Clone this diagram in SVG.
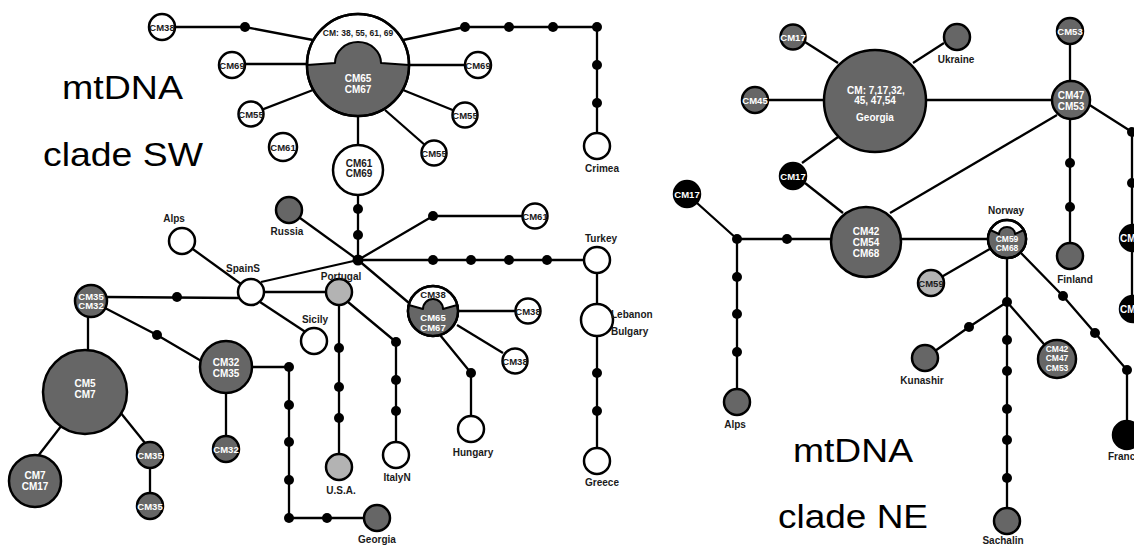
<svg xmlns="http://www.w3.org/2000/svg" width="1134" height="545" viewBox="0 0 1134 545">
<defs><style>
.c line,.c polyline{stroke:#000;stroke-width:2.3;fill:none;stroke-linejoin:round}
.m circle{fill:#000}
.w{fill:#fff;stroke:#000;stroke-width:2.5}
.g{fill:#666;stroke:#000;stroke-width:2.5}
.lg{fill:#b3b3b3;stroke:#000;stroke-width:2.5}
.k{fill:#000;stroke:#000;stroke-width:2.5}
.o{fill:none;stroke:#000;stroke-width:2.5}
.cap{fill:#666;stroke:#000;stroke-width:2;stroke-linejoin:round}
text{font-family:"Liberation Sans",Arial,sans-serif;font-weight:bold;text-anchor:middle;fill:#1a1a1a;font-size:10px}
.s{font-size:9.5px}
.xs{font-size:8.5px}
.wt{fill:#fff}
.st{text-anchor:start}
.big{font-weight:normal;font-size:33px;text-anchor:start;fill:#000}
</style></defs>
<rect width="1134" height="545" fill="#fff"/>

<g id="titles">
<text class="big" x="62" y="99" textLength="121" lengthAdjust="spacingAndGlyphs">mtDNA</text>
<text class="big" x="43" y="166" textLength="160" lengthAdjust="spacingAndGlyphs">clade SW</text>
<text class="big" x="793" y="462" textLength="120" lengthAdjust="spacingAndGlyphs">mtDNA</text>
<text class="big" x="778" y="528" textLength="150" lengthAdjust="spacingAndGlyphs">clade NE</text>
</g>

<g id="connectors" class="c">
<polyline points="162,27 245,27 313,40"/>
<line x1="232" y1="64" x2="309" y2="64"/>
<line x1="251" y1="114" x2="313" y2="90"/>
<polyline points="403,40 465,27 597,27 597,146"/>
<line x1="409" y1="65" x2="478" y2="65"/>
<line x1="403" y1="90" x2="465" y2="115"/>
<line x1="385" y1="110" x2="434" y2="153"/>
<line x1="358" y1="112" x2="358" y2="260"/>
<polyline points="358,260 433,216 535,216"/>
<line x1="358" y1="260" x2="597" y2="260"/>
<line x1="597" y1="260" x2="597" y2="461"/>
<line x1="289" y1="210" x2="358" y2="260"/>
<line x1="261" y1="282" x2="358" y2="260"/>
<line x1="358" y1="260" x2="409" y2="303"/>
<line x1="190" y1="247" x2="241" y2="284"/>
<line x1="264" y1="292" x2="327" y2="292"/>
<line x1="260" y1="302" x2="307" y2="333"/>
<line x1="106" y1="297" x2="239" y2="298"/>
<line x1="88" y1="316" x2="88" y2="352"/>
<polyline points="105,308 157,335 203,362"/>
<line x1="226" y1="367" x2="226" y2="449"/>
<polyline points="226,367 289,367 289,518 377,518"/>
<line x1="62" y1="425" x2="38" y2="456"/>
<line x1="120" y1="412" x2="145" y2="443"/>
<line x1="150" y1="455" x2="150" y2="506"/>
<line x1="339" y1="292" x2="339" y2="467"/>
<polyline points="348,302 396,342 396,455"/>
<line x1="433" y1="311" x2="528" y2="311"/>
<line x1="457" y1="325" x2="503" y2="353"/>
<polyline points="440,335 471,373 471,429"/>

<line x1="805" y1="42" x2="838" y2="63"/>
<line x1="913" y1="63" x2="944" y2="43"/>
<line x1="755" y1="100" x2="1071" y2="100"/>
<line x1="838" y1="137" x2="802" y2="163"/>
<line x1="1070" y1="31" x2="1070" y2="256"/>
<line x1="1057" y1="115" x2="890" y2="213"/>
<line x1="805" y1="183" x2="843" y2="213"/>
<polyline points="1088,104 1132,132 1132,309"/>
<polyline points="687,194 737,239 1007,239"/>
<line x1="737" y1="239" x2="737" y2="402"/>
<line x1="1007" y1="239" x2="931" y2="283"/>
<line x1="1007" y1="239" x2="1007" y2="521"/>
<polyline points="1007,302 969,327 925,358"/>
<line x1="1007" y1="302" x2="1057" y2="359"/>
<polyline points="1020,252 1063,296 1095,333 1127,370 1127,435"/>
</g>

<g id="median-vectors" class="m">
<circle cx="245" cy="27" r="5"/><circle cx="465" cy="27" r="5"/><circle cx="509" cy="27" r="5"/><circle cx="553" cy="27" r="5"/><circle cx="597" cy="27" r="5"/><circle cx="597" cy="65" r="5"/><circle cx="597" cy="103" r="5"/>
<circle cx="358" cy="209" r="5"/><circle cx="358" cy="235" r="5"/><circle cx="358" cy="260" r="5.5"/>
<circle cx="433" cy="216" r="5"/><circle cx="433" cy="260" r="5"/><circle cx="471" cy="260" r="5"/><circle cx="509" cy="260" r="5"/><circle cx="547" cy="260" r="5"/>
<circle cx="597" cy="373" r="5"/><circle cx="597" cy="411" r="5"/>
<circle cx="177" cy="297" r="5"/><circle cx="157" cy="335" r="5"/>
<circle cx="289" cy="367" r="5"/><circle cx="289" cy="405" r="5"/><circle cx="289" cy="442" r="5"/><circle cx="289" cy="480" r="5"/><circle cx="289" cy="518" r="5"/><circle cx="327" cy="518" r="5"/>
<circle cx="339" cy="348" r="5"/><circle cx="339" cy="387" r="5"/><circle cx="339" cy="418" r="5"/>
<circle cx="396" cy="342" r="5"/><circle cx="396" cy="380" r="5"/><circle cx="396" cy="411" r="5"/>
<circle cx="471" cy="373" r="5"/>
<circle cx="1070" cy="163" r="5"/><circle cx="1070" cy="207" r="5"/>
<circle cx="1132" cy="132" r="5"/><circle cx="1132" cy="183" r="5"/>
<circle cx="737" cy="239" r="5"/><circle cx="787" cy="239" r="5"/><circle cx="737" cy="277" r="5"/><circle cx="737" cy="314" r="5"/><circle cx="737" cy="352" r="5"/>
<circle cx="1007" cy="302" r="5"/><circle cx="969" cy="327" r="5"/>
<circle cx="1007" cy="340" r="5"/><circle cx="1007" cy="371" r="5"/><circle cx="1007" cy="409" r="5"/><circle cx="1007" cy="440" r="5"/><circle cx="1007" cy="478" r="5"/>
<circle cx="1063" cy="296" r="5"/><circle cx="1095" cy="333" r="5"/><circle cx="1127" cy="370" r="5"/>
</g>

<!-- clade SW nodes -->
<g id="sw-hub-top">
<circle cx="358" cy="65" r="51" class="w"/>
<path class="cap" d="M307,65 L335,63 A23,21 0 0 1 381,63 L409,65 A51,51 0 0 1 307,65 Z"/>
<circle cx="358" cy="65" r="51" class="o"/>
<text class="xs" x="358" y="36">CM: 38, 55, 61, 69</text>
<text class="wt" x="358" y="82">CM65</text>
<text class="wt" x="358" y="93">CM67</text>
</g>
<g id="sw-cm38-a"><circle cx="162" cy="27" r="13" class="w"/><text class="s" x="162" y="30.5">CM38</text></g>
<g id="sw-cm69-a"><circle cx="232" cy="65" r="13" class="w"/><text class="s" x="232" y="68.5">CM69</text></g>
<g id="sw-cm55-a"><circle cx="251" cy="114" r="12.5" class="w"/><text class="s" x="251" y="117.5">CM55</text></g>
<g id="sw-cm61-a"><circle cx="283" cy="147" r="14" class="w"/><text class="s" x="283" y="150.5">CM61</text></g>
<g id="sw-cm69-b"><circle cx="478" cy="65" r="13" class="w"/><text class="s" x="478" y="68.5">CM69</text></g>
<g id="sw-cm55-b"><circle cx="465" cy="115" r="12.5" class="w"/><text class="s" x="465" y="118.5">CM55</text></g>
<g id="sw-cm55-c"><circle cx="434" cy="153" r="12.5" class="w"/><text class="s" x="434" y="156.5">CM55</text></g>
<g id="sw-crimea"><circle cx="597" cy="146" r="13" class="w"/><text x="602" y="171.5">Crimea</text></g>
<g id="sw-cm61-cm69"><circle cx="358" cy="170" r="25" class="w"/><text x="359" y="166.5">CM61</text><text x="359" y="177">CM69</text></g>
<g id="sw-cm61-b"><circle cx="535" cy="216" r="12.5" class="w"/><text class="s" x="535" y="219.5">CM61</text></g>
<g id="sw-turkey"><circle cx="597" cy="260" r="13" class="w"/><text x="601" y="241.5">Turkey</text></g>
<g id="sw-lebanon-bulgary"><circle cx="597" cy="320" r="16" class="w"/><text class="st" x="611" y="317.5">Lebanon</text><text class="st" x="611" y="334.5">Bulgary</text></g>
<g id="sw-greece"><circle cx="597" cy="461" r="13" class="w"/><text x="602" y="486">Greece</text></g>
<g id="sw-russia"><circle cx="289" cy="210" r="13" class="g"/><text x="287" y="235">Russia</text></g>
<g id="sw-spains"><circle cx="251" cy="292" r="13" class="w"/><text x="243" y="272">SpainS</text></g>
<g id="sw-alps"><circle cx="182" cy="241" r="13" class="w"/><text x="174" y="222">Alps</text></g>
<g id="sw-sicily"><circle cx="314" cy="341" r="13" class="w"/><text x="315" y="323">Sicily</text></g>
<g id="sw-portugal"><circle cx="339" cy="292" r="13" class="lg"/><text x="341" y="279.5">Portugal</text></g>
<g id="sw-cm38-cm65">
<circle cx="433" cy="311" r="25" class="w"/>
<path class="cap" d="M408.73,305 L423,309 A10,10 0 0 1 443,309 L457.27,305 A25,25 0 1 1 408.73,305 Z"/>
<circle cx="433" cy="311" r="25" class="o"/>
<text class="s" x="433" y="297.5">CM38</text>
<text class="s wt" x="433" y="320.5">CM65</text>
<text class="s wt" x="433" y="330.5">CM67</text>
</g>
<g id="sw-cm38-b"><circle cx="528" cy="311" r="12.5" class="w"/><text class="s" x="528" y="314.5">CM38</text></g>
<g id="sw-cm38-c"><circle cx="515" cy="361" r="12.5" class="w"/><text class="s" x="515" y="364.5">CM38</text></g>
<g id="sw-hungary"><circle cx="471" cy="429" r="13" class="w"/><text x="473" y="455.5">Hungary</text></g>
<g id="sw-italyn"><circle cx="396" cy="455" r="13" class="w"/><text x="397" y="480.5">ItalyN</text></g>
<g id="sw-usa"><circle cx="339" cy="467" r="13" class="lg"/><text x="341" y="493.5">U.S.A.</text></g>
<g id="sw-cm35-cm32"><circle cx="91" cy="301" r="16" class="g"/><text class="s wt" x="91" y="300">CM35</text><text class="s wt" x="91" y="309">CM32</text></g>
<g id="sw-cm5-cm7"><circle cx="85" cy="392" r="42" class="g"/><text class="wt" x="85" y="386.5">CM5</text><text class="wt" x="85" y="397.5">CM7</text></g>
<g id="sw-cm32-cm35"><circle cx="226" cy="367" r="26" class="g"/><text class="wt" x="226" y="365.5">CM32</text><text class="wt" x="226" y="376.5">CM35</text></g>
<g id="sw-cm32"><circle cx="226" cy="449" r="13" class="g"/><text class="s wt" x="226" y="452.5">CM32</text></g>
<g id="sw-cm7-cm17"><circle cx="35" cy="481" r="26" class="g"/><text class="wt" x="35" y="478.5">CM7</text><text class="wt" x="35" y="489.5">CM17</text></g>
<g id="sw-cm35-a"><circle cx="150" cy="455" r="13" class="g"/><text class="s wt" x="150" y="458.5">CM35</text></g>
<g id="sw-cm35-b"><circle cx="150" cy="506" r="13" class="g"/><text class="s wt" x="150" y="509.5">CM35</text></g>
<g id="sw-georgia"><circle cx="377" cy="518" r="13" class="g"/><text x="377" y="543">Georgia</text></g>

<!-- clade NE nodes -->
<g id="ne-georgia">
<circle cx="875" cy="101" r="51" class="g"/>
<text class="wt" x="876" y="93.5">CM: 7,17,32,</text>
<text class="wt" x="875" y="103.5">45, 47,54</text>
<text class="wt" x="875" y="120.5">Georgia</text>
</g>
<g id="ne-cm17-a"><circle cx="793" cy="37" r="12.5" class="g"/><text class="s wt" x="793" y="40.5">CM17</text></g>
<g id="ne-ukraine"><circle cx="957" cy="37" r="13" class="g"/><text x="956" y="62.5">Ukraine</text></g>
<g id="ne-cm45"><circle cx="755" cy="100" r="13" class="g"/><text class="s wt" x="755" y="103.5">CM45</text></g>
<g id="ne-cm17-b"><circle cx="793" cy="176" r="13" class="k"/><text class="s wt" x="793" y="179.5">CM17</text></g>
<g id="ne-cm17-c"><circle cx="687" cy="194" r="13" class="k"/><text class="s wt" x="687" y="197.5">CM17</text></g>
<g id="ne-cm53"><circle cx="1070" cy="31" r="13" class="g"/><text class="s wt" x="1070" y="34.5">CM53</text></g>
<g id="ne-cm47-cm53"><circle cx="1071" cy="100" r="19" class="g"/><text class="wt" x="1071" y="98.5">CM47</text><text class="wt" x="1071" y="109.5">CM53</text></g>
<g id="ne-finland"><circle cx="1070" cy="256" r="13" class="g"/><text x="1075" y="282.5">Finland</text></g>
<g id="ne-black-a"><circle cx="1133" cy="238" r="13" class="k"/><text class="wt st" x="1120" y="241.5" font-size="9">CM</text></g>
<g id="ne-black-b"><circle cx="1133" cy="309" r="13" class="k"/><text class="wt st" x="1120" y="312.5" font-size="9">CM</text></g>
<g id="ne-cm42-cm54-cm68"><circle cx="866" cy="242" r="35" class="g"/><text class="wt" x="866" y="234.5">CM42</text><text class="wt" x="866" y="245.5">CM54</text><text class="wt" x="866" y="256.5">CM68</text></g>
<g id="ne-alps"><circle cx="737" cy="402" r="13" class="g"/><text x="735" y="427.5">Alps</text></g>
<g id="ne-norway">
<circle cx="1007" cy="239" r="19" class="w"/>
<path class="cap" d="M990.27,230 L999,234 A8,7 0 0 1 1015,234 L1023.73,230 A19,19 0 1 1 990.27,230 Z"/>
<circle cx="1007" cy="239" r="19" class="o"/>
<text x="1006" y="213.5">Norway</text>
<text class="xs wt" x="1007" y="242">CM59</text>
<text class="xs wt" x="1007" y="251">CM68</text>
</g>
<g id="ne-cm59"><circle cx="931" cy="283" r="13" class="lg"/><text class="s" x="931" y="286.5">CM59</text></g>
<g id="ne-kunashir"><circle cx="925" cy="358" r="13" class="g"/><text x="922" y="383.5">Kunashir</text></g>
<g id="ne-cm42-cm47-cm53"><circle cx="1057" cy="359" r="19" class="g"/><text class="xs wt" x="1057" y="352">CM42</text><text class="xs wt" x="1057" y="361">CM47</text><text class="xs wt" x="1057" y="370.5">CM53</text></g>
<g id="ne-sachalin"><circle cx="1007" cy="521" r="13" class="g"/><text x="1003" y="544">Sachalin</text></g>
<g id="ne-france"><circle cx="1127" cy="435" r="14" class="k"/><text class="st" x="1108" y="459.5">Franc</text></g>
</svg>
